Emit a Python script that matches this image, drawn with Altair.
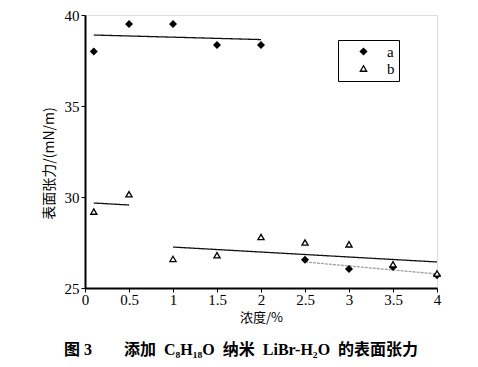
import altair as alt
import pandas as pd

# concentration (%)
conc_a = [0.1, 0.5, 1.0, 1.5, 2.0, 2.5, 3.0, 3.5, 4.0]
tension_a = [38.0, 39.5, 39.5, 38.35, 38.35, 26.55, 26.05, 26.15, 25.7]
conc_b = [0.1, 0.5, 1.0, 1.5, 2.0, 2.5, 3.0, 3.5, 4.0]
tension_b = [29.2, 30.15, 26.6, 26.8, 27.8, 27.5, 27.4, 26.3, 25.8]

# fitted line segments (endpoints)
fit_id = ["a1", "a1", "b1", "b1", "b2", "b2", "a2", "a2"]
fit_x = [0.1, 2.0, 0.1, 0.5, 1.0, 4.0, 2.5, 4.0]
fit_y = [38.9, 38.65, 29.67, 29.56, 27.25, 26.43, 26.43, 25.77]
fit_style = ["solid", "solid", "solid", "solid", "solid", "solid", "grey", "grey"]

pts = pd.DataFrame({
    "x": conc_a + conc_b,
    "y": tension_a + tension_b,
    "s": ["a"] * len(conc_a) + ["b"] * len(conc_b),
})
fits = pd.DataFrame({"id": fit_id, "x": fit_x, "y": fit_y, "st": fit_style})

xs = alt.Scale(domain=[0, 4], nice=False, zero=False)
ys = alt.Scale(domain=[25, 40], nice=False, zero=False)

xax = alt.Axis(values=[0, 0.5, 1, 1.5, 2, 2.5, 3, 3.5, 4], title="浓度/%", format="~g",
               labelFont="Liberation Serif", labelFontSize=15, labelColor="black",
               titleFont="Noto Sans CJK SC", titleFontSize=13, titleFontWeight="normal",
               titleColor="black", titlePadding=4, grid=False, tickColor="black",
               tickSize=4, domainColor="black", domainWidth=2, labelPadding=0,
               labelFlush=False)
yax = alt.Axis(values=[25, 30, 35, 40], title="表面张力/(mN/m)",
               labelFont="Liberation Serif", labelFontSize=15, labelColor="black",
               titleFont="Noto Sans CJK SC", titleFontSize=14, titleFontWeight="normal",
               titleColor="black", titlePadding=8, titleY=148, grid=False, tickColor="black",
               tickSize=4, domainColor="black", domainWidth=2, labelPadding=2)

lines = alt.Chart(fits).mark_line(strokeWidth=1.3).encode(
    x=alt.X("x:Q", scale=xs, axis=xax),
    y=alt.Y("y:Q", scale=ys, axis=yax),
    detail="id:N",
    color=alt.Color("st:N", scale=alt.Scale(domain=["solid", "grey"], range=["#111111", "#a0a0a0"]), legend=None),
    strokeDash=alt.StrokeDash("st:N", scale=alt.Scale(domain=["solid", "grey"], range=[[1, 0], [3, 1]]), legend=None),
)

leg = alt.Legend(title=None, orient="none", legendX=253, legendY=25,
                 strokeColor="black", padding=4, labelFont="Liberation Serif",
                 labelFontSize=15, labelColor="black", symbolSize=40, rowPadding=1,
                 symbolStrokeWidth=1.3, labelOffset=16, symbolOffset=14,
                 labelExpr="datum.label + '\u00a0\u00a0\u00a0\u00a0\u00a0'")

points = alt.Chart(pts).mark_point(size=38, strokeWidth=1.3, opacity=1).encode(
    x=alt.X("x:Q", scale=xs),
    y=alt.Y("y:Q", scale=ys),
    shape=alt.Shape("s:N", scale=alt.Scale(domain=["a", "b"], range=["diamond", "triangle-up"]), legend=leg),
    fill=alt.Fill("s:N", scale=alt.Scale(domain=["a", "b"], range=["black", "white"]), legend=leg),
    stroke=alt.Stroke("s:N", scale=alt.Scale(domain=["a", "b"], range=["black", "black"]), legend=leg),
)

caption = "图 3\u3000\u3000添加\u00a0\u00a0C₈H₁₈O\u00a0\u00a0纳米\u00a0\u00a0LiBr-H₂O\u00a0\u00a0的表面张力"

chart = alt.layer(lines, points).resolve_scale(color="independent").properties(
    width=352, height=273,
    padding={"left": 77, "top": 7, "right": 33, "bottom": 71},
    autosize="none",
    title=alt.TitleParams(caption, orient="bottom",
                          font="Liberation Serif, Noto Sans CJK SC", fontSize=16, fontWeight="bold",
                          color="black", offset=18, dx=-20),
).configure_view(stroke="black", strokeWidth=2).configure(background="white")

chart.save("out.html", embed_options={"renderer": "svg", "actions": False})
